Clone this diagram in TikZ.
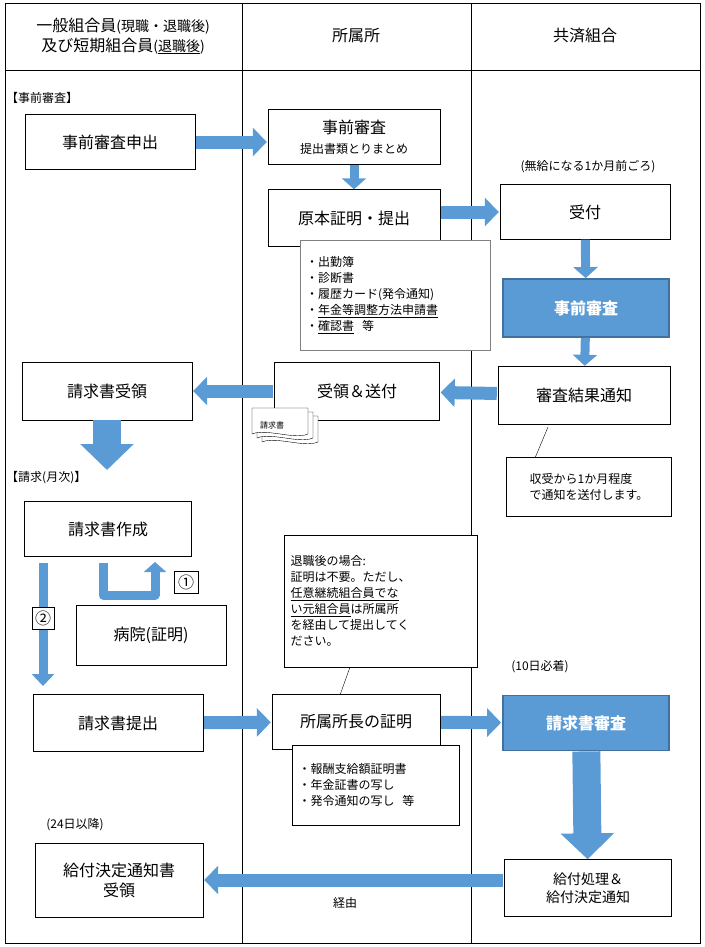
\documentclass[tikz,border=0pt]{standalone}
\usepackage{fontspec}
\setmainfont{Noto Sans CJK JP}
\usetikzlibrary{arrows.meta,positioning}
\definecolor{flowblue}{RGB}{91,155,213}
\definecolor{edgeblue}{RGB}{65,113,156}
\newcommand{\bigtxt}{\fontsize{16}{20}\selectfont}
\newcommand{\smalltxt}{\fontsize{12}{16}\selectfont}
\tikzset{
  box/.style={draw, fill=white, align=center, font=\bigtxt, inner sep=2pt},
  hot/.style={draw=edgeblue, line width=1.8pt, fill=flowblue, text=white, align=center, font=\bigtxt\bfseries},
  memo/.style={draw, fill=white, align=left, font=\smalltxt, inner sep=6pt},
  tag/.style={font=\smalltxt, inner sep=1pt},
  flow/.style={draw=flowblue, line width=13pt, -{Triangle[width=28pt,length=14pt]}, shorten <=1pt, shorten >=1pt},
  bigflow/.style={draw=flowblue, line width=28pt, -{Triangle[width=52pt,length=26pt]}},
  thinflow/.style={draw=flowblue, line width=9pt, -{Triangle[width=24pt,length=11pt]}}
}
\begin{document}
\begin{tikzpicture}[x=1pt,y=-1pt]
  \useasboundingbox (0,0) rectangle (704,947);
  % frame and lanes
  \draw (5,3) rectangle (700,943);
  \draw (242,3) -- (242,943) (471,3) -- (471,943) (5,70) -- (700,70);
  \node[align=center, font=\bigtxt] (head1) at (123,36) {一般組合員{\fontsize{14}{18}\selectfont(現職・退職後)}\\及び短期組合員{\fontsize{14}{18}\selectfont(\underline{退職後})}};
  \node[font=\bigtxt] (head2) at (356,36) {所属所};
  \node[font=\bigtxt] (head3) at (585,36) {共済組合};

  %pre-examination
  \node[tag, anchor=west] (sec1) at (5,98) {【事前審査】};
  \node[box, minimum width=170pt, minimum height=55pt] (apply) at (110,142) {事前審査申出};
  \node[box, minimum width=172pt, minimum height=55pt] (collect) at (354,137) {事前審査\\{\smalltxt 提出書類とりまとめ}};
  \node[box, minimum width=172pt, minimum height=57pt] (orig) at (354,218) {原本証明・提出};
  \node[tag] (nopay) at (588,167) {(無給になる1か月前ごろ)};
  \node[box, minimum width=170pt, minimum height=55pt] (accept) at (585,212) {受付};
  \node[memo, draw=gray, text width=178pt, minimum height=110pt] (docs1) at (395,295) {・出勤簿\\・診断書\\・履歴カード(発令通知)\\・\underline{年金等調整方法申請書}\\・\underline{確認書}\ \ 等};
  \node[hot, minimum width=166pt, minimum height=58pt] (exam) at (586,308) {事前審査};
  \node[box, minimum width=172pt, minimum height=58pt] (result) at (584,395) {審査結果通知};
  \node[box, minimum width=165pt, minimum height=58pt] (send) at (357,391) {受領＆送付};
  \node[box, minimum width=170pt, minimum height=58pt] (getform) at (107,391) {請求書受領};
  \node[memo, minimum width=165pt, minimum height=59pt] (notice) at (589,487) {収受から1か月程度\\で通知を送付します。};

  % form icon
  \foreach \i in {2,1,0}
    \draw[fill=white] (252+5*\i,408+4*\i) -- ++(56,0) -- ++(0,26) .. controls ++(-14,6) and ++(14,-6) .. ++(-56,0) -- cycle;
  \node[font=\fontsize{8}{10}\selectfont] (formicon) at (272,425) {請求書};

  %monthly claim
  \node[tag, anchor=west] (sec2) at (5,478) {【請求(月次)】};
  \node[box, minimum width=167pt, minimum height=55pt] (make) at (108,529) {請求書作成};
  \node[box, minimum width=150pt, minimum height=60pt] (hosp) at (151,635) {病院(証明)};
  \node[memo, text width=181pt, minimum height=132pt] (retire) at (381,601) {退職後の場合:\\証明は不要。ただし、\\\underline{任意継続組合員でな}\\\underline{い元組合員}は所属所\\を経由して提出してく\\ださい。\\[8pt]};
  \node[tag] (due) at (540,667) {(10日必着)};
  \node[box, minimum width=170pt, minimum height=57pt] (submit) at (118,723) {請求書提出};
  \node[box, minimum width=168pt, minimum height=55pt] (cert) at (356,722) {所属所長の証明};
  \node[hot, minimum width=166pt, minimum height=55pt] (check) at (586,723) {請求書審査};
  \node[memo, text width=155pt, minimum height=80pt] (docs2) at (376,785) {・報酬支給額証明書\\・年金証書の写し\\・発令通知の写し\ \ 等};
  \node[tag] (after) at (75,825) {(24日以降)};
  \node[box, minimum width=168pt, minimum height=74pt] (final) at (119,880) {給付決定通知書\\受領};
  \node[box, font=\fontsize{14}{18}\selectfont, minimum width=167pt, minimum height=57pt] (pay) at (588,888) {給付処理＆\\給付決定通知};
  \node[tag] (via) at (345,903) {経由};

  % loop and step marks
  \coordinate (u1) at (103,563);
  \coordinate (u2) at (103,595);
  \coordinate (u3) at (155,595);
  \coordinate (u4) at (155,562);
  \coordinate (d1) at (43,563);
  \coordinate (d2) at (43,686);
  \node[draw, fill=white, font=\bigtxt, inner sep=1pt, minimum width=24pt, minimum height=22pt] (one) at (186,582) {①};

  % connectors
  \path[flow] (apply) -- (collect.west |- apply);
  \path[thinflow] (collect) -- (orig);
  \path[flow] (orig.east |- accept) -- (accept);
  \path[thinflow] (accept) -- (exam);
  \path[thinflow] (exam) -- (result);
  \path[flow] (result) -- (send);
  \path[flow] (send) -- (getform);
  \path[bigflow] (getform) -- (getform |- 0,470);
  \draw (548,427) -- (535,458);
  \draw[draw=flowblue, line width=9pt, -{Triangle[width=22pt,length=10pt]}, line join=round]
    (u1) -- (u2) -- (u3) -- (u4);
  \draw[draw=flowblue, line width=9pt, -{Triangle[width=22pt,length=12pt]}] (d1) -- (d2);
  \node[draw, fill=white, font=\bigtxt, inner sep=1pt, minimum width=22pt, minimum height=22pt] (two) at (43,618) {②};
  \draw (retire.south -| 350,0) -- (340,695);
  \path[flow] (submit) -- (cert);
  \path[flow] (cert) -- (check);
  \path[bigflow] (check) -- (pay);
  \path[flow] (pay.west |- final) -- (final);
\end{tikzpicture}
\end{document}
